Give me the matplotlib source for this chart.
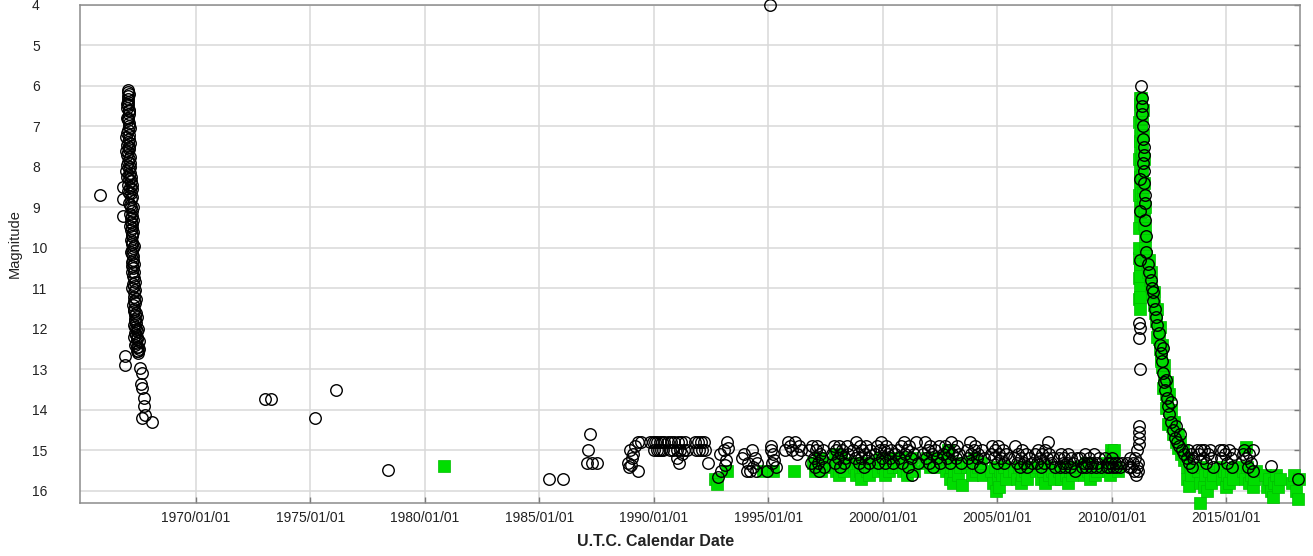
import matplotlib
matplotlib.use('Agg')
import matplotlib.pyplot as plt

plt.rcParams['font.family'] = ['Liberation Sans', 'DejaVu Sans']

# ---------------------------------------------------------------------------------
# light curve values: (decimal year, magnitude)
# visual estimates (open black circles)
vis_1966 = [
    (1965.81, 8.70),
    (1967.03, 6.10), (1967.01, 6.25), (1967.04, 6.40), (1967.00, 6.55), (1967.05, 6.70),
    (1967.01, 6.85), (1967.06, 7.00), (1967.00, 7.15), (1967.05, 7.30), (1966.99, 7.45),
    (1967.07, 7.55), (1967.00, 7.70), (1967.08, 7.80), (1966.99, 7.95), (1967.06, 8.05),
    (1967.10, 8.15), (1967.00, 8.25), (1967.14, 8.35), (1967.04, 8.45), (1967.18, 8.55),
    (1967.09, 8.65), (1967.16, 8.80), (1967.12, 8.95), (1967.19, 9.10), (1967.14, 9.25),
    (1967.20, 9.40), (1967.16, 9.55), (1967.22, 9.70), (1967.18, 9.85), (1967.23, 10.00),
    (1967.19, 10.15), (1967.24, 10.30), (1967.21, 10.45), (1967.27, 10.60), (1967.30, 10.75),
    (1967.26, 10.90), (1967.32, 11.05), (1967.28, 11.20), (1967.34, 11.35), (1967.30, 11.50),
    (1967.36, 11.60), (1967.33, 11.75), (1967.38, 11.85), (1967.35, 11.95), (1967.41, 12.05),
    (1967.37, 12.15), (1967.43, 12.25), (1967.39, 12.35), (1967.45, 12.45), (1967.42, 12.55),
    (1967.47, 12.60),
    (1967.08, 6.20), (1966.98, 6.45), (1967.09, 6.60), (1966.97, 6.80), (1967.10, 7.05),
    (1966.96, 7.25), (1967.11, 7.40), (1966.95, 7.60), (1967.12, 7.90), (1966.96, 8.10),
    (1967.07, 8.30), (1967.20, 8.45), (1967.02, 8.60), (1967.21, 8.75), (1967.08, 8.90),
    (1967.24, 9.00), (1967.12, 9.15), (1967.25, 9.30), (1967.13, 9.45), (1967.26, 9.60),
    (1967.14, 9.80), (1967.27, 9.95), (1967.16, 10.10), (1967.29, 10.40), (1967.18, 10.60),
    (1967.33, 10.85), (1967.22, 11.00), (1967.37, 11.25), (1967.25, 11.40), (1967.40, 11.70),
    (1967.29, 11.90), (1967.46, 12.00), (1967.31, 12.20), (1967.49, 12.30), (1967.34, 12.40),
    (1967.51, 12.50),
    (1967.02, 6.15), (1967.04, 6.32), (1967.02, 6.48), (1967.06, 6.62), (1967.02, 6.78),
    (1967.07, 6.92), (1967.03, 7.08), (1967.08, 7.22), (1967.02, 7.38), (1967.09, 7.50),
    (1967.03, 7.62), (1967.10, 7.75), (1967.04, 7.88), (1967.11, 8.00), (1967.05, 8.20),
    (1967.15, 8.25), (1967.12, 8.50), (1967.17, 8.65), (1967.14, 9.00), (1967.18, 9.20),
    (1967.16, 9.35), (1967.21, 9.50), (1967.18, 9.65), (1967.22, 9.90), (1967.20, 10.05),
    (1967.25, 10.20), (1967.22, 10.35), (1967.26, 10.50), (1967.24, 10.70), (1967.29, 10.95),
    (1967.27, 11.10), (1967.31, 11.30), (1967.29, 11.55), (1967.35, 11.65), (1967.32, 11.80),
    (1967.38, 12.00), (1967.35, 12.10), (1967.42, 12.20), (1967.40, 12.45), (1967.46, 12.55),
    (1966.83, 8.50), (1966.82, 8.78), (1966.83, 9.20), (1966.90, 12.68), (1966.90, 12.90),
    (1967.57, 12.97), (1967.64, 13.10), (1967.60, 13.35), (1967.66, 13.45), (1967.71, 13.70),
    (1967.73, 13.90), (1967.78, 14.13), (1967.64, 14.20), (1968.06, 14.30),
]

vis_sparse = [
    (1973.01, 13.74), (1973.26, 13.74), (1975.20, 14.20), (1976.11, 13.50), (1978.38, 15.49),
    (1985.41, 15.71), (1986.01, 15.71), (1987.21, 14.60), (1987.13, 15.00), (1987.09, 15.31),
    (1987.28, 15.31), (1987.50, 15.31), (1995.07, 4.00),
]

vis_1989_1996 = [
    (1988.88, 15.30), (1988.93, 15.40), (1988.95, 15.00), (1989.03, 15.20), (1989.10, 15.10),
    (1989.17, 14.90), (1989.31, 14.80), (1989.31, 15.50), (1989.46, 14.80), (1989.02, 15.35),
    (1989.85, 14.80), (1989.95, 14.80), (1990.05, 14.80), (1990.15, 14.80), (1990.25, 14.80),
    (1990.35, 14.80), (1990.45, 14.80), (1990.00, 15.00), (1990.12, 15.00), (1990.22, 15.00),
    (1990.32, 15.00), (1990.42, 15.00),
    (1990.62, 14.80), (1990.75, 14.80), (1990.90, 14.80), (1991.05, 14.80), (1991.20, 14.80),
    (1991.35, 14.80), (1990.70, 15.00), (1990.85, 15.00), (1991.00, 15.00), (1991.15, 15.00),
    (1991.30, 15.00), (1991.45, 15.00), (1991.00, 15.20), (1991.10, 15.30), (1991.25, 15.10),
    (1991.80, 14.80), (1991.92, 14.80), (1992.05, 14.80), (1992.18, 14.80), (1991.85, 15.00),
    (1991.98, 15.00), (1992.12, 15.00), (1992.25, 15.00), (1992.37, 15.30),
    (1992.88, 15.10), (1992.95, 15.50), (1992.81, 15.65), (1993.05, 15.00), (1993.20, 14.80),
    (1993.25, 14.95), (1993.15, 15.25), (1993.10, 15.35),
    (1993.85, 15.20), (1993.95, 15.10), (1994.05, 15.50), (1994.12, 15.30), (1994.20, 15.50),
    (1994.27, 15.00), (1994.34, 15.40), (1994.45, 15.50), (1994.50, 15.30), (1994.40, 15.20),
    (1994.95, 15.50), (1995.10, 15.00), (1995.14, 14.90), (1995.20, 15.10), (1995.25, 15.25),
    (1995.35, 15.40), (1995.15, 15.30),
    (1995.75, 15.00), (1995.87, 14.80), (1995.95, 14.90), (1996.05, 15.00), (1996.15, 14.80),
    (1996.25, 15.10), (1996.35, 14.90), (1996.42, 15.00),
]

vis_1997_2010 = [
    (1996.78, 15.0), (1996.85, 15.3), (1996.92, 14.9), (1996.98, 15.2), (1997.03, 15.4),
    (1997.08, 15.0), (1997.12, 14.9), (1997.18, 15.3), (1997.22, 15.5), (1997.27, 15.1),
    (1997.33, 15.2), (1997.40, 15.0), (1997.45, 15.4),
    (1997.80, 15.1), (1997.86, 14.9), (1997.92, 15.3), (1997.98, 15.0), (1998.03, 15.2),
    (1998.08, 14.9), (1998.13, 15.4), (1998.18, 15.1), (1998.24, 15.0), (1998.30, 15.3),
    (1998.36, 15.2), (1998.42, 14.9), (1998.48, 15.1),
    (1998.72, 15.0), (1998.78, 15.2), (1998.84, 14.8), (1998.90, 15.1), (1998.95, 15.3),
    (1999.00, 14.9), (1999.05, 15.2), (1999.10, 15.0), (1999.16, 15.4), (1999.22, 15.1),
    (1999.28, 14.9), (1999.34, 15.2), (1999.40, 15.3), (1999.46, 15.0),
    (1999.67, 15.1), (1999.73, 14.9), (1999.80, 15.3), (1999.86, 15.0), (1999.92, 14.8),
    (1999.98, 15.2), (2000.04, 15.0), (2000.10, 15.3), (2000.16, 14.9), (2000.22, 15.1),
    (2000.30, 15.2), (2000.38, 15.0), (2000.46, 15.3), (2000.54, 15.1),
    (2000.67, 15.0), (2000.73, 15.2), (2000.80, 14.9), (2000.86, 15.3), (2000.92, 14.8),
    (2000.98, 15.1), (2001.04, 15.0), (2001.10, 15.4), (2001.16, 14.9), (2001.22, 15.2),
    (2001.30, 15.6), (2001.38, 15.1), (2001.46, 14.8), (2001.54, 15.3),
    (2001.77, 15.1), (2001.83, 14.8), (2001.90, 15.2), (2001.96, 15.0), (2002.02, 15.3),
    (2002.08, 14.9), (2002.14, 15.1), (2002.20, 15.4), (2002.28, 15.0), (2002.36, 15.2),
    (2002.44, 14.9), (2002.52, 15.3),
    (2002.65, 15.1), (2002.72, 14.9), (2002.80, 15.2), (2002.86, 15.0), (2002.92, 15.3),
    (2002.98, 14.8), (2003.04, 15.1), (2003.10, 15.0), (2003.18, 15.2), (2003.26, 14.9),
    (2003.34, 15.1), (2003.42, 15.3),
    (2003.67, 15.0), (2003.73, 15.2), (2003.80, 14.8), (2003.86, 15.1), (2003.92, 15.3),
    (2003.98, 15.0), (2004.04, 14.9), (2004.10, 15.2), (2004.18, 15.1), (2004.26, 15.4),
    (2004.34, 15.0), (2004.42, 15.2),
    (2004.72, 15.1), (2004.78, 14.9), (2004.85, 15.2), (2004.92, 15.0), (2004.98, 15.3),
    (2005.04, 14.9), (2005.10, 15.1), (2005.16, 15.2), (2005.24, 15.0), (2005.32, 15.3),
    (2005.40, 15.1), (2005.50, 15.2),
    (2005.72, 15.2), (2005.78, 14.9), (2005.85, 15.3), (2005.92, 15.1), (2005.98, 15.4),
    (2006.04, 15.2), (2006.10, 15.0), (2006.16, 15.3), (2006.24, 15.1), (2006.32, 15.4),
    (2006.40, 15.2), (2006.50, 15.3),
    (2006.66, 15.1), (2006.72, 15.3), (2006.80, 15.0), (2006.86, 15.2), (2006.92, 15.4),
    (2006.98, 15.1), (2007.04, 15.3), (2007.10, 15.0), (2007.16, 15.2), (2007.22, 14.8),
    (2007.28, 15.1), (2007.36, 15.3), (2007.44, 15.2), (2007.52, 15.4),
    (2007.68, 15.2), (2007.74, 15.4), (2007.80, 15.1), (2007.86, 15.3), (2007.92, 15.2),
    (2007.98, 15.4), (2008.04, 15.3), (2008.10, 15.1), (2008.16, 15.4), (2008.24, 15.2),
    (2008.32, 15.3), (2008.40, 15.5), (2008.48, 15.2),
    (2008.64, 15.2), (2008.70, 15.4), (2008.78, 15.3), (2008.84, 15.1), (2008.90, 15.4),
    (2008.96, 15.3), (2009.02, 15.2), (2009.08, 15.4), (2009.14, 15.3), (2009.22, 15.1),
    (2009.30, 15.4), (2009.38, 15.3), (2009.46, 15.2), (2009.54, 15.4),
    (2009.72, 15.2), (2009.78, 15.4), (2009.84, 15.3), (2009.90, 15.4), (2009.96, 15.3),
    (2010.02, 15.2), (2010.08, 15.4), (2010.14, 15.3), (2010.20, 15.4), (2010.28, 15.3),
    (2010.36, 15.4), (2010.44, 15.3),
]

vis_2011 = [
    (2010.68, 15.3), (2010.74, 15.4), (2010.80, 15.2), (2010.86, 15.4), (2010.92, 15.3),
    (2010.98, 15.5), (2011.02, 15.2), (2011.06, 15.6), (2011.10, 15.4), (2011.12, 15.0),
    (2011.16, 15.3), (2011.14, 15.5),
    (2011.19, 14.40), (2011.20, 14.55), (2011.21, 14.70), (2011.19, 14.85), (2011.22, 13.00),
    (2011.21, 12.23), (2011.22, 11.98), (2011.21, 11.85), (2011.22, 10.30), (2011.23, 9.10),
    (2011.24, 8.30),
    (2011.30, 6.00), (2011.32, 6.30), (2011.33, 6.50), (2011.31, 6.70), (2011.36, 7.00),
    (2011.38, 7.30), (2011.40, 7.50), (2011.42, 7.70), (2011.39, 7.90), (2011.43, 8.10),
    (2011.41, 8.40), (2011.44, 8.70), (2011.45, 8.90), (2011.47, 9.30), (2011.49, 9.70),
    (2011.52, 10.10), (2011.58, 10.40), (2011.63, 10.60), (2011.70, 10.80), (2011.76, 11.00),
    (2011.82, 11.30), (2011.88, 11.50), (2011.94, 11.70), (2012.00, 11.90), (2012.05, 12.10),
    (2012.10, 12.40), (2012.15, 12.60), (2012.20, 12.80), (2012.25, 13.10), (2012.30, 13.30),
    (2012.35, 13.50), (2012.40, 13.70), (2012.46, 13.90), (2012.52, 14.10), (2012.58, 14.30),
    (2012.66, 14.50), (2012.76, 14.70), (2012.86, 14.80), (2012.96, 14.90), (2013.06, 15.00),
    (2013.16, 15.10), (2013.28, 15.20), (2013.40, 15.30), (2013.52, 15.40),
    (2012.24, 12.48), (2012.39, 13.26), (2011.80, 11.10), (2012.60, 13.80), (2012.80, 14.40),
    (2013.00, 14.60),
]

vis_2013_2018 = [
    (2013.35, 15.0), (2013.45, 15.1), (2013.55, 15.2),
    (2013.75, 15.0), (2013.82, 15.1), (2013.90, 15.0), (2013.98, 15.2), (2014.05, 15.0),
    (2014.12, 15.3), (2014.20, 15.1), (2014.28, 15.0), (2014.36, 15.2), (2014.44, 15.4),
    (2014.72, 15.0), (2014.80, 15.2), (2014.88, 15.0), (2014.96, 15.1), (2015.04, 15.3),
    (2015.12, 15.0), (2015.20, 15.2), (2015.28, 15.4), (2015.36, 15.1),
    (2015.72, 15.1), (2015.80, 15.0), (2015.88, 15.2), (2015.95, 15.4), (2016.02, 15.1),
    (2016.10, 15.3), (2016.16, 15.0), (2016.18, 15.5),
    (2016.97, 15.38), (2018.13, 15.70),
]

# V band (filled green squares)
v_early = [
    (1980.83, 15.39), (1992.66, 15.70), (1992.76, 15.82), (1993.20, 15.50), (1994.77, 15.50),
    (1995.20, 15.50), (1996.14, 15.50), (1997.04, 15.50),
]

v_1997_2010 = [
    (1996.95, 15.3), (1997.10, 15.4), (1997.20, 15.2), (1997.30, 15.5), (1997.38, 15.3),
    (1997.82, 15.4), (1997.90, 15.1), (1997.96, 15.5), (1998.02, 15.3), (1998.10, 15.6),
    (1998.16, 15.2), (1998.22, 15.4), (1998.30, 15.5), (1998.40, 15.3),
    (1998.75, 15.4), (1998.85, 15.6), (1998.92, 15.3), (1999.00, 15.5), (1999.06, 15.7),
    (1999.12, 15.4), (1999.20, 15.3), (1999.30, 15.5), (1999.38, 15.6),
    (1999.70, 15.3), (1999.80, 15.5), (1999.90, 15.2), (2000.00, 15.4), (2000.08, 15.6),
    (2000.16, 15.3), (2000.26, 15.5), (2000.36, 15.2), (2000.46, 15.4),
    (2000.70, 15.4), (2000.80, 15.2), (2000.90, 15.5), (2001.00, 15.3), (2001.08, 15.6),
    (2001.18, 15.4), (2001.28, 15.2), (2001.38, 15.5),
    (2001.85, 15.3), (2001.95, 15.2), (2002.05, 15.4), (2002.15, 15.3), (2002.25, 15.2),
    (2002.35, 15.4),
    (2002.70, 15.2), (2002.78, 15.5), (2002.85, 15.0), (2002.92, 15.7), (2003.00, 15.4),
    (2003.06, 15.8), (2003.12, 15.5), (2003.20, 15.3), (2003.28, 15.6), (2003.36, 15.4),
    (2003.46, 15.85),
    (2003.70, 15.4), (2003.80, 15.3), (2003.90, 15.6), (2004.00, 15.2), (2004.08, 15.5),
    (2004.18, 15.4), (2004.28, 15.3), (2004.38, 15.6),
    (2004.75, 15.5), (2004.82, 15.8), (2004.90, 15.4), (2004.96, 16.0), (2005.02, 15.7),
    (2005.08, 15.9), (2005.14, 15.5), (2005.22, 15.6), (2005.30, 15.4), (2005.40, 15.7),
    (2005.50, 15.5),
    (2005.75, 15.5), (2005.85, 15.7), (2005.95, 15.4), (2006.02, 15.8), (2006.10, 15.6),
    (2006.20, 15.5), (2006.30, 15.7), (2006.42, 15.4),
    (2006.70, 15.5), (2006.80, 15.4), (2006.90, 15.7), (2007.00, 15.5), (2007.08, 15.8),
    (2007.18, 15.4), (2007.28, 15.6), (2007.40, 15.5), (2007.50, 15.7),
    (2007.70, 15.5), (2007.80, 15.7), (2007.90, 15.4), (2008.00, 15.6), (2008.08, 15.8),
    (2008.18, 15.5), (2008.28, 15.6), (2008.40, 15.4),
    (2008.68, 15.4), (2008.78, 15.6), (2008.88, 15.3), (2008.98, 15.5), (2009.06, 15.7),
    (2009.16, 15.4), (2009.26, 15.6), (2009.38, 15.5),
    (2009.74, 15.3), (2009.82, 15.5), (2009.92, 15.6), (2009.98, 15.0), (2010.04, 15.1),
    (2010.12, 15.0), (2010.20, 15.4), (2010.30, 15.5),
]

v_2011 = [
    (2011.22, 6.30), (2011.23, 6.60), (2011.21, 6.90), (2011.22, 7.20), (2011.23, 7.50),
    (2011.21, 7.80), (2011.22, 8.10), (2011.23, 8.40), (2011.21, 8.70), (2011.22, 9.00),
    (2011.23, 9.30),
    (2011.21, 10.25), (2011.22, 10.50), (2011.20, 10.75), (2011.23, 11.00), (2011.21, 11.25),
    (2011.22, 11.50), (2011.24, 10.70),
    (2011.25, 6.45), (2011.27, 6.90), (2011.26, 7.35), (2011.28, 7.80), (2011.26, 8.25),
    (2011.29, 8.65), (2011.27, 9.10), (2011.20, 9.50), (2011.19, 10.00), (2011.25, 11.20),
    (2011.26, 10.40),
    (2011.28, 6.30), (2011.30, 6.50), (2011.32, 6.80), (2011.29, 7.10), (2011.34, 7.40),
    (2011.31, 7.70), (2011.36, 7.90), (2011.33, 8.20), (2011.38, 8.50), (2011.35, 8.80),
    (2011.40, 9.10), (2011.42, 9.40), (2011.44, 9.70), (2011.47, 10.00),
    (2011.36, 6.60), (2011.38, 7.20), (2011.40, 7.80), (2011.42, 8.40), (2011.44, 9.00),
    (2011.46, 9.50),
    (2011.50, 10.20), (2011.55, 10.40), (2011.60, 10.60), (2011.66, 10.80), (2011.72, 10.95),
    (2011.78, 11.15), (2011.84, 11.40), (2011.90, 11.60), (2011.96, 11.80), (2012.02, 12.00),
    (2012.07, 12.25), (2012.12, 12.50), (2012.17, 12.75), (2012.22, 12.95), (2012.27, 13.20),
    (2012.32, 13.40), (2012.37, 13.60), (2012.43, 13.80), (2012.49, 14.00), (2012.55, 14.20),
    (2012.62, 14.40), (2012.70, 14.60), (2012.80, 14.80), (2012.92, 14.95), (2013.04, 15.10),
    (2013.16, 15.25), (2013.30, 15.40), (2013.44, 15.55),
    (2011.62, 10.30), (2011.70, 10.60), (2011.86, 11.10), (2011.98, 11.50), (2012.10, 11.95),
    (2012.20, 12.40), (2012.30, 12.90), (2012.40, 13.30), (2012.50, 13.60), (2012.60, 14.00),
    (2012.72, 14.30), (2012.88, 14.60), (2013.00, 14.80), (2013.12, 15.00), (2013.24, 15.20),
    (2012.00, 12.20), (2012.14, 12.80), (2012.26, 13.45), (2012.36, 13.95), (2012.46, 14.35),
]

v_2013_2018 = [
    (2013.30, 15.70), (2013.38, 15.88), (2013.46, 15.60), (2013.85, 16.31),
    (2013.78, 15.50), (2013.86, 15.80), (2013.94, 15.40), (2014.02, 15.90), (2014.10, 15.60),
    (2014.18, 16.00), (2014.26, 15.50), (2014.34, 15.80), (2014.42, 15.60),
    (2014.74, 15.40), (2014.82, 15.70), (2014.90, 15.50), (2014.98, 15.90), (2015.06, 15.60),
    (2015.14, 15.80), (2015.22, 15.50), (2015.30, 15.70), (2015.38, 15.40),
    (2015.86, 14.92), (2015.76, 15.50), (2015.84, 15.70), (2015.92, 15.40), (2016.00, 15.80),
    (2016.08, 15.60), (2016.16, 15.90), (2016.24, 15.70), (2016.32, 15.50),
    (2016.72, 15.60), (2016.80, 15.90), (2016.88, 15.70), (2016.96, 16.00), (2017.03, 16.16),
    (2017.10, 15.80), (2017.18, 15.60), (2017.26, 15.90), (2017.34, 15.70),
    (2017.90, 15.80), (2017.98, 15.60), (2018.06, 16.00), (2018.13, 16.20), (2018.18, 15.70),
]

year_ticks = [1970, 1975, 1980, 1985, 1990, 1995, 2000, 2005, 2010, 2015]
year_labels = ['%d/01/01' % y for y in year_ticks]
mag_ticks = [4, 5, 6, 7, 8, 9, 10, 11, 12, 13, 14, 15, 16]

# ---------------------------------------------------------------------------------
vis = vis_1966 + vis_sparse + vis_1989_1996 + vis_1997_2010 + vis_2011 + vis_2013_2018
vband = v_early + v_1997_2010 + v_2011 + v_2013_2018
vis_x, vis_y = zip(*vis)
v_x, v_y = zip(*vband)

W, H = 1313, 556
fig = plt.figure(figsize=(W / 100, H / 100), dpi=100)
ax = fig.add_axes([80 / W, 1 - 503 / H, 1220 / W, 498 / H])

ax.plot(v_x, v_y, 's', ms=8, mfc='#00dd00', mec='#00be00', mew=0.5,
        clip_on=False, zorder=3, linestyle='none')
ax.plot(vis_x, vis_y, 'o', ms=8.3, mfc='none', mec='black', mew=1.0,
        clip_on=False, zorder=4, linestyle='none')

ax.set_xlim(1964.93, 2018.23)
ax.set_ylim(16.3, 4.0)

ax.set_xticks(year_ticks)
ax.set_xticklabels(year_labels)
ax.set_yticks(mag_ticks)
ax.set_axisbelow(True)
ax.grid(True, color='#d8d8d8', lw=1.1)

ax.tick_params(direction='in', length=4, width=1, color='#7a7a7a',
               labelcolor='#222222', labelsize=10)
ax.tick_params(axis='y', left=False, right=True, pad=34.5)
ax.tick_params(axis='x', top=False, pad=6)
for lab in ax.get_yticklabels():
    lab.set_horizontalalignment('left')

for side in ['left', 'bottom', 'top', 'right']:
    ax.spines[side].set_color('#8c8c8c')
    ax.spines[side].set_linewidth(1.1)

ax.set_ylabel('Magnitude', fontsize=10.5, color='#222222')
ax.yaxis.set_label_coords(-0.048, 0.52)
ax.set_xlabel('U.T.C. Calendar Date', fontsize=11.5, fontweight='bold', color='#222222')
ax.xaxis.set_label_coords(0.472, -0.062)

fig.savefig('out.png', dpi=100)
